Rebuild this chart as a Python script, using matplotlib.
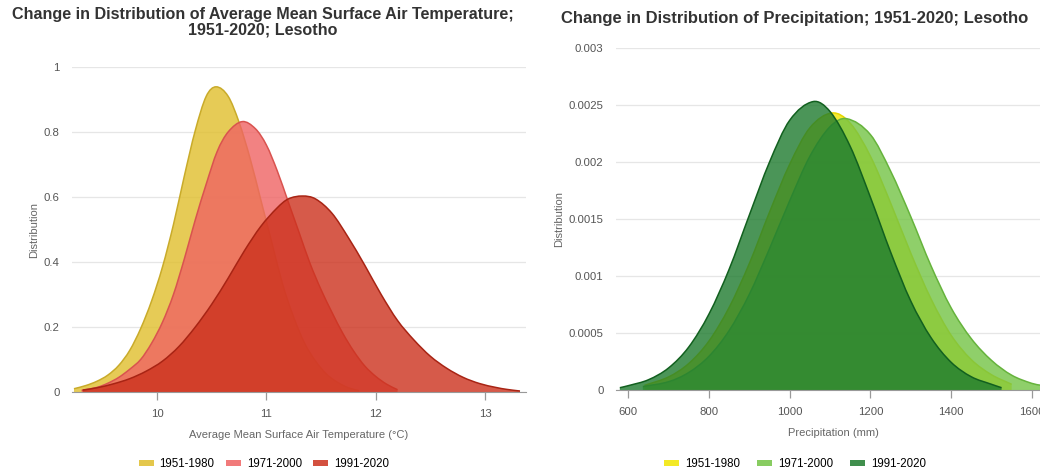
import matplotlib.pyplot as plt
import numpy as np
from matplotlib.path import Path
from matplotlib.patches import PathPatch, Patch

plt.rcParams['font.family'] = ['Liberation Sans', 'DejaVu Sans']

periods = ['1951-1980', '1971-2000', '1991-2020']

# temperature distributions (deg C -> density)
tas_x_5180 = [9.24, 9.35, 9.45, 9.55, 9.65, 9.75, 9.85, 9.95, 10.05, 10.15, 10.25, 10.35,
              10.45, 10.54, 10.65, 10.75, 10.85, 10.95, 11.05, 11.15, 11.25, 11.35, 11.45,
              11.55, 11.65, 11.75, 11.85]
tas_y_5180 = [0.01, 0.02, 0.033, 0.052, 0.082, 0.128, 0.195, 0.28, 0.385, 0.515, 0.665, 0.805,
              0.91, 0.939, 0.91, 0.83, 0.72, 0.59, 0.46, 0.33, 0.23, 0.15, 0.095,
              0.055, 0.03, 0.013, 0.004]
tas_x_7100 = [9.31, 9.45, 9.55, 9.65, 9.75, 9.85, 9.95, 10.05, 10.15, 10.25, 10.35, 10.45,
              10.55, 10.65, 10.78, 10.9, 11.0, 11.1, 11.2, 11.3, 11.4, 11.5, 11.6, 11.7,
              11.8, 11.9, 12.0, 12.1, 12.2]
tas_y_7100 = [0.005, 0.014, 0.027, 0.045, 0.07, 0.10, 0.15, 0.215, 0.30, 0.41, 0.53, 0.64,
              0.74, 0.80, 0.832, 0.81, 0.76, 0.68, 0.585, 0.49, 0.395, 0.315, 0.245, 0.18,
              0.125, 0.08, 0.048, 0.024, 0.007]
tas_x_9120 = [9.32, 9.45, 9.6, 9.75, 9.9, 10.05, 10.2, 10.35, 10.5, 10.65, 10.8, 10.95,
              11.1, 11.2, 11.33, 11.45, 11.6, 11.75, 11.9, 12.05, 12.2, 12.35, 12.5, 12.65,
              12.8, 12.95, 13.1, 13.2, 13.32]
tas_y_9120 = [0.006, 0.013, 0.025, 0.041, 0.064, 0.095, 0.14, 0.20, 0.27, 0.35, 0.435, 0.51,
              0.567, 0.594, 0.603, 0.594, 0.55, 0.475, 0.39, 0.30, 0.22, 0.16, 0.11, 0.073,
              0.045, 0.026, 0.014, 0.008, 0.003]

# precipitation distributions (mm -> density)
pr_x_5180 = [640, 700, 750, 800, 850, 900, 950, 1000, 1050, 1105, 1150, 1200, 1250, 1300,
             1350, 1400, 1450, 1500, 1550]
pr_y_5180 = [0.00004, 0.000115, 0.000233, 0.00043, 0.000725, 0.00111, 0.00156, 0.00198,
             0.0023, 0.00243, 0.00234, 0.00205, 0.00164, 0.0012, 0.0008, 0.00048, 0.000266,
             0.000134, 0.00005]
pr_x_7100 = [636, 700, 750, 800, 850, 900, 950, 1000, 1050, 1100, 1141, 1200, 1250, 1300,
             1350, 1400, 1450, 1500, 1550, 1600, 1625]
pr_y_7100 = [0.00003, 0.000073, 0.000154, 0.000296, 0.000522, 0.00084, 0.00124, 0.00166,
             0.00205, 0.00231, 0.00238, 0.00224, 0.00192, 0.00152, 0.00109, 0.00072,
             0.00045, 0.00026, 0.00013, 0.000058, 0.00004]
pr_x_9120 = [579, 600, 650, 700, 750, 800, 850, 900, 950, 1000, 1058, 1100, 1150, 1200,
             1250, 1300, 1350, 1400, 1450, 1500, 1525]
pr_y_9120 = [0.00002, 0.000038, 0.00009, 0.000194, 0.000378, 0.000667, 0.00106, 0.001535,
             0.002, 0.002366, 0.00253, 0.002442, 0.002136, 0.00169, 0.00121, 0.00078,
             0.00046, 0.000243, 0.000116, 0.00005, 0.00002]

tas_xticks = [10, 11, 12, 13]
tas_yticks = [0, 0.2, 0.4, 0.6, 0.8, 1]
tas_ylabels = ['0', '0.2', '0.4', '0.6', '0.8', '1']
pr_xticks = [600, 800, 1000, 1200, 1400, 1600]
pr_yticks = [0, 0.0005, 0.001, 0.0015, 0.002, 0.0025, 0.003]
pr_ylabels = ['0', '0.0005', '0.001', '0.0015', '0.002', '0.0025', '0.003']

red_fill = ['#e0be2c', '#ef6363', '#cc311d']
red_edge = ['#c9ab2a', '#d9534f', '#a82414']
green_fill = ['#f2e600', '#73c345', '#1e7b2e']
green_edge = ['#e6d600', '#66b33c', '#12601f']


def spline_paths(xs, ys):
    # cubic hermite through the points, written as bezier segments
    x = np.asarray(xs, float)
    y = np.asarray(ys, float)
    n = len(x)
    m = np.zeros(n)
    for i in range(n):
        a, b = max(i - 1, 0), min(i + 1, n - 1)
        m[i] = (y[b] - y[a]) / (x[b] - x[a])
    verts = [(x[0], y[0])]
    for i in range(n - 1):
        dx = x[i + 1] - x[i]
        verts += [(x[i] + dx / 3, y[i] + m[i] * dx / 3),
                  (x[i + 1] - dx / 3, y[i + 1] - m[i + 1] * dx / 3),
                  (x[i + 1], y[i + 1])]
    codes = [Path.MOVETO] + [Path.CURVE4] * (3 * (n - 1))
    line = Path(verts, codes)
    area = Path([(x[0], 0)] + verts + [(x[-1], 0), (x[0], 0)],
                [Path.MOVETO, Path.LINETO] + codes[1:] + [Path.LINETO, Path.CLOSEPOLY])
    return area, line


def draw_panel(ax, series, fills, edges, xlim, ylim, xticks, yticks, ylabels, xlabel):
    for (xs, ys), fc, ec in zip(series, fills, edges):
        area, line = spline_paths(xs, ys)
        ax.add_patch(PathPatch(area, facecolor=fc, edgecolor='none', alpha=0.8))
        ax.add_patch(PathPatch(line, facecolor='none', edgecolor=ec, lw=1.1))
    ax.set_xlim(*xlim)
    ax.set_ylim(*ylim)
    ax.set_xticks(xticks)
    ax.set_yticks(yticks)
    ax.set_yticklabels(ylabels)
    ax.grid(axis='y', color='#e6e6e6', lw=0.9)
    ax.set_axisbelow(True)
    for s in ['top', 'right', 'left']:
        ax.spines[s].set_visible(False)
    ax.spines['bottom'].set_color('#999999')
    ax.tick_params(axis='x', colors='#999999', labelcolor='#555555', labelsize=8.2,
                   length=6, width=0.9, pad=6)
    ax.tick_params(axis='y', length=0, labelcolor='#555555', labelsize=8.2, pad=9)
    ax.set_ylabel('Distribution', color='#666666', fontsize=8, labelpad=3)
    ax.set_xlabel(xlabel, color='#666666', fontsize=8, labelpad=8)


fig = plt.figure(figsize=(10.4, 4.71), dpi=100)

ax1 = fig.add_axes([72 / 1040, 1 - 392 / 471, 454 / 1040, 325 / 471])
draw_panel(ax1,
           [(tas_x_5180, tas_y_5180), (tas_x_7100, tas_y_7100), (tas_x_9120, tas_y_9120)],
           red_fill, red_edge, (9.222, 13.375), (0, 1),
           tas_xticks, tas_yticks, tas_ylabels,
           'Average Mean Surface Air Temperature (°C)')

ax2 = fig.add_axes([616 / 1040, 1 - 390 / 471, 434 / 1040, 342 / 471])
draw_panel(ax2,
           [(pr_x_5180, pr_y_5180), (pr_x_7100, pr_y_7100), (pr_x_9120, pr_y_9120)],
           green_fill, green_edge, (569.5, 1645), (0, 0.003),
           pr_xticks, pr_yticks, pr_ylabels, 'Precipitation (mm)')

# legends sit under each chart, centred on the chart box
for fills, cx, gap in [(red_fill, 264, 1.0), (green_fill, 795, 1.5)]:
    handles = [Patch(facecolor=fc, edgecolor='none', alpha=0.85) for fc in fills]
    fig.legend(handles, periods, loc='center', bbox_to_anchor=(cx / 1040, 1 - 464 / 471),
               ncol=3, frameon=False, handlelength=1.3, handleheight=0.45,
               columnspacing=gap, handletextpad=0.5, fontsize=8.3)

fig.text(263 / 1040, 1 - 22 / 471,
         'Change in Distribution of Average Mean Surface Air Temperature;\n1951-2020; Lesotho',
         ha='center', va='center', fontsize=11.65, fontweight='bold', color='#333333',
         linespacing=1.08)
fig.text(795 / 1040, 1 - 18 / 471,
         'Change in Distribution of Precipitation; 1951-2020; Lesotho',
         ha='center', va='center', fontsize=12, fontweight='bold', color='#333333')

fig.savefig('out.png', dpi=100)
